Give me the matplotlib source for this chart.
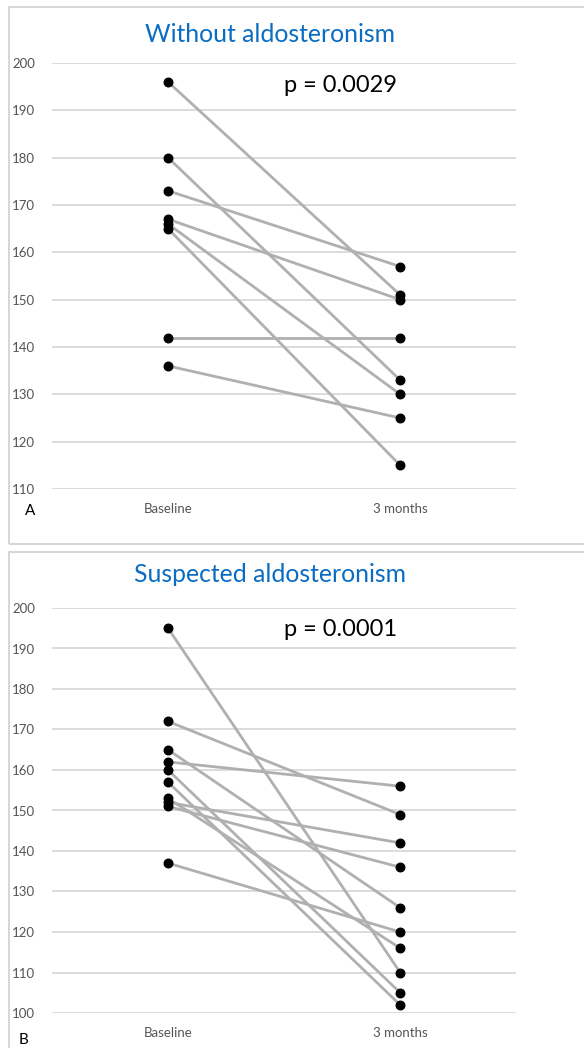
import matplotlib.pyplot as plt
from matplotlib.patches import Rectangle

plt.rcParams['font.family'] = ['Lato', 'DejaVu Sans']

categories = ['Baseline', '3 months']

# Panel A: without aldosteronism (paired baseline -> 3 months)
a_baseline = [196, 180, 173, 167, 166, 165, 142, 136]
a_3months = [151, 133, 157, 150, 130, 115, 142, 125]
a_yticks = list(range(110, 201, 10))

# Panel B: suspected aldosteronism
b_baseline = [195, 172, 165, 162, 160, 157, 153, 152, 151, 137]
b_3months = [110, 149, 126, 156, 105, 102, 116, 142, 136, 120]
b_yticks = list(range(100, 201, 10))

titles = ['Without aldosteronism', 'Suspected aldosteronism']
pvalues = ['p = 0.0029', 'p = 0.0001']
letters = ['A', 'B']

TITLE_BLUE = '#0a6cc2'
LINE_GRAY = '#b0b0b0'
GRID_GRAY = '#d6d6d6'
TICK_GRAY = '#555555'

fig = plt.figure(figsize=(5.84, 10.48), dpi=100)

# light frames around each panel
fig.patches.append(Rectangle((9 / 584, 1 - 544 / 1048), 0.99, 537 / 1048,
                             transform=fig.transFigure, fill=False,
                             edgecolor='#d0d0d0', linewidth=1.2))
fig.patches.append(Rectangle((9 / 584, -0.01), 0.99, 1 - 552 / 1048 + 0.01,
                             transform=fig.transFigure, fill=False,
                             edgecolor='#d0d0d0', linewidth=1.2))

panels = [
    (a_baseline, a_3months, a_yticks, [0.089, 1 - 489 / 1048, 0.795, (489 - 63) / 1048], 35, 85, 511),
    (b_baseline, b_3months, b_yticks, [0.089, 1 - 1013 / 1048, 0.795, (1013 - 608) / 1048], 575, 629, 1040),
]

for i, (base, after, yticks, rect, title_y, p_y, letter_y) in enumerate(panels):
    ax = fig.add_axes(rect)
    for b, a in zip(base, after):
        ax.plot([0, 1], [b, a], color=LINE_GRAY, linewidth=2.0, zorder=2)
    ax.scatter([0] * len(base), base, s=38, color='black', zorder=3)
    ax.scatter([1] * len(after), after, s=38, color='black', zorder=3)

    ax.set_xlim(-0.5, 1.5)
    ax.set_ylim(yticks[0], yticks[-1])
    ax.set_yticks(yticks)
    ax.set_xticks([0, 1])
    ax.set_xticklabels(categories)
    ax.grid(axis='y', color=GRID_GRAY, linewidth=1.2, zorder=0)
    ax.set_axisbelow(True)
    for s in ax.spines.values():
        s.set_visible(False)
    ax.tick_params(axis='both', length=0, colors=TICK_GRAY, labelsize=9.5)
    ax.tick_params(axis='y', pad=12)
    ax.tick_params(axis='x', pad=10, labelsize=9.5)
    for ln in ax.get_lines():
        ln.set_clip_on(False)

    fig.text(270 / 584, 1 - title_y / 1048, titles[i], ha='center', va='center',
             fontsize=17.8, color=TITLE_BLUE)
    fig.text(341 / 584, 1 - p_y / 1048, pvalues[i], ha='center', va='center',
             fontsize=17, color='black')
    fig.text(30 / 584 if i == 0 else 24 / 584, 1 - letter_y / 1048, letters[i],
             ha='center', va='center', fontsize=11, color='black')

plt.savefig('out.png', dpi=100)
